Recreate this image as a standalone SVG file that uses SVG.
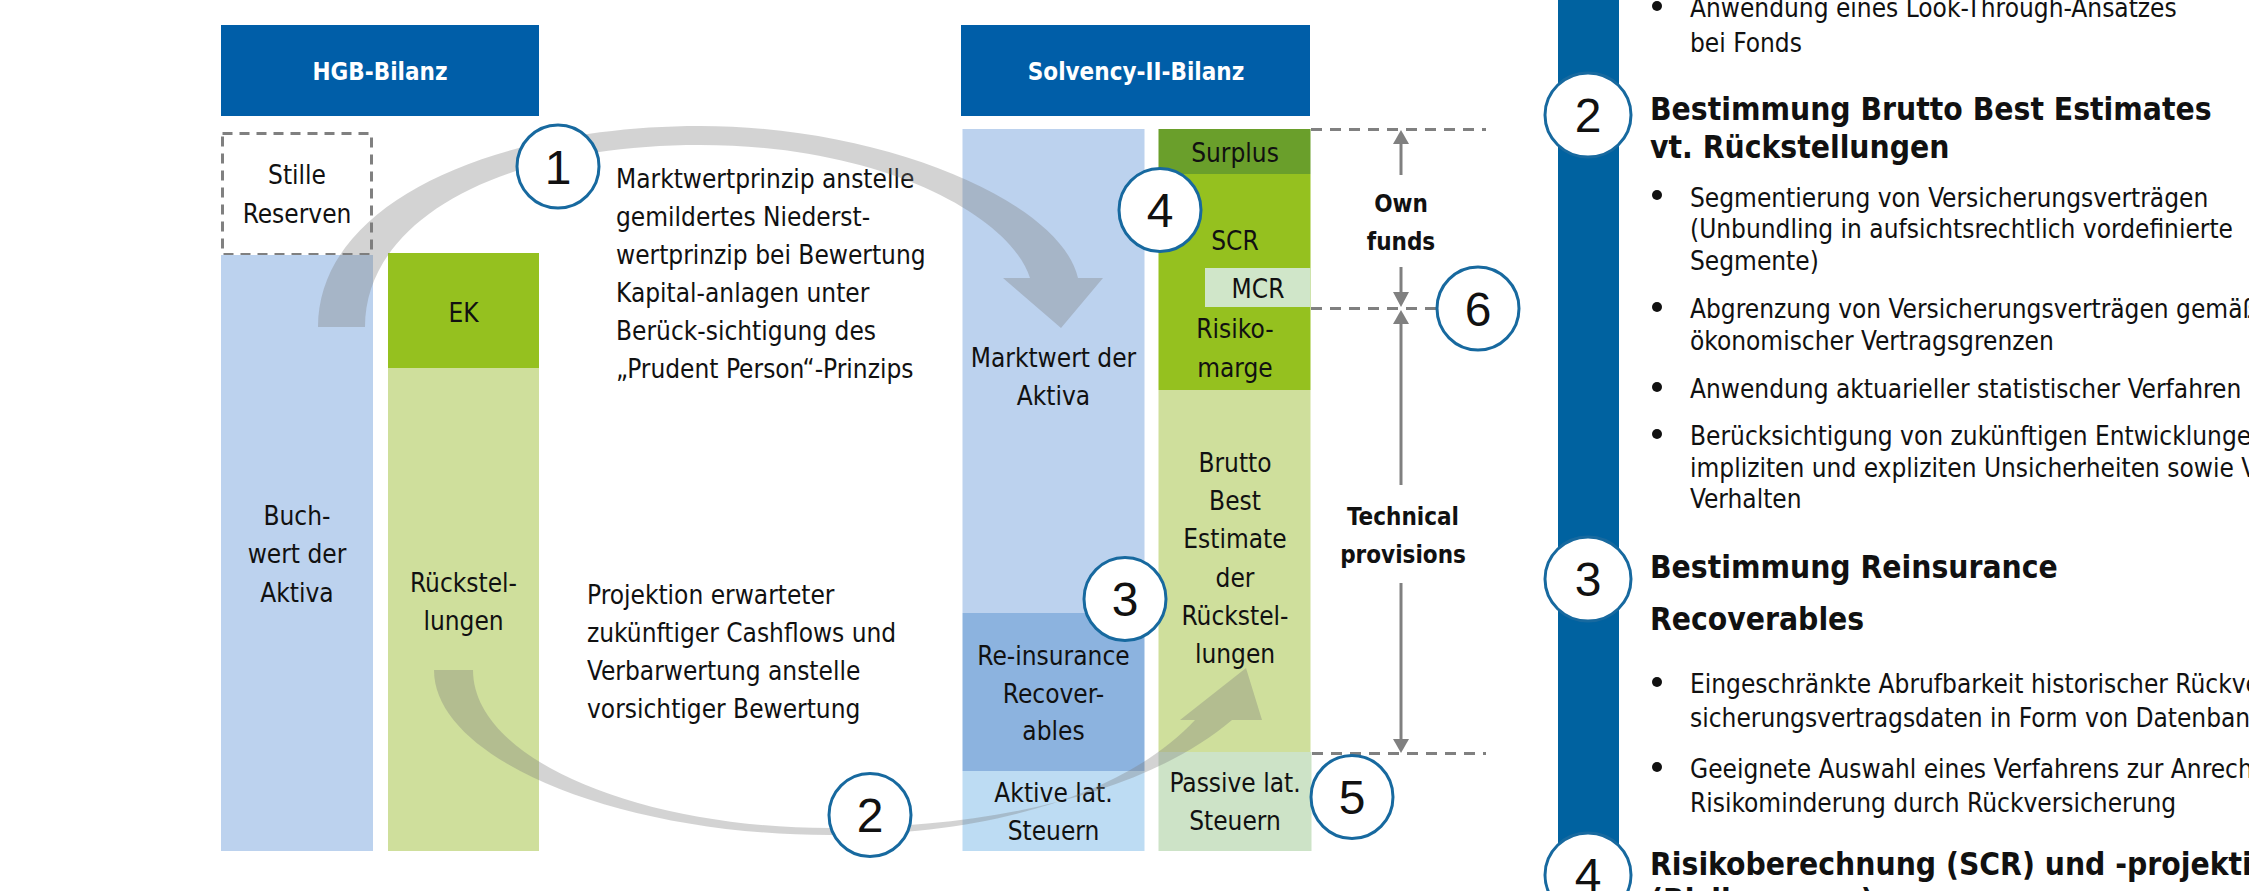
<svg xmlns="http://www.w3.org/2000/svg" width="2249" height="891" viewBox="0 0 2249 891">
  <style>
    text { font-family: "DejaVu Sans Condensed", "DejaVu Sans", sans-serif; font-stretch: condensed; fill: #111; }
    .lbl { font-size: 26px; text-anchor: middle; }
    .body { font-size: 26px; }
    .hdr { font-size: 24px; font-weight: bold; fill: #fff; text-anchor: middle; }
    .dim { font-size: 24px; font-weight: bold; text-anchor: middle; }
    .head { font-size: 31.5px; font-weight: bold; }
    .num { font-family: "Liberation Sans", Arial, sans-serif; font-stretch: normal; font-size: 48px; text-anchor: middle; }
    .badge { fill: #fff; stroke: #17699f; stroke-width: 3; }
    .guide { stroke: #808080; stroke-width: 3; stroke-dasharray: 11 8; fill: none; }
    .dimline { stroke: #808080; stroke-width: 3; fill: none; }
    .head-tri { fill: #808080; }
    .flow { fill: #7a7a7a; fill-opacity: 0.33; }
    .dot { fill: #111; }
  </style>

  <!-- HGB balance sheet -->
  <g id="hgb-header">
    <rect x="221" y="25" width="318" height="91" fill="#005ea8"/>
    <text class="hdr" x="380" y="80">HGB-Bilanz</text>
  </g>
  <g id="stille-reserven">
    <rect x="222.5" y="133.5" width="149" height="121" fill="none" stroke="#808080" stroke-width="3" stroke-dasharray="10 7"/>
    <text class="lbl" x="297" y="184">Stille</text>
    <text class="lbl" x="297" y="223">Reserven</text>
  </g>
  <g id="buchwert">
    <rect x="221" y="255" width="152" height="596" fill="#bcd2ee"/>
    <text class="lbl" x="297" y="525">Buch-</text>
    <text class="lbl" x="297" y="563">wert der</text>
    <text class="lbl" x="297" y="602">Aktiva</text>
  </g>
  <g id="ek">
    <rect x="388" y="253" width="151" height="115" fill="#95c11f"/>
    <text class="lbl" x="463.5" y="322">EK</text>
  </g>
  <g id="rueckstellungen">
    <rect x="388" y="368" width="151" height="483" fill="#cfdf9c"/>
    <text class="lbl" x="463.5" y="592">Rückstel-</text>
    <text class="lbl" x="463.5" y="630">lungen</text>
  </g>

  <!-- Solvency II balance sheet -->
  <g id="solvency-header">
    <rect x="961" y="25" width="349" height="91" fill="#005ea8"/>
    <text class="hdr" x="1136" y="80">Solvency-II-Bilanz</text>
  </g>
  <g id="marktwert">
    <rect x="962.5" y="129" width="182" height="484" fill="#bcd2ee"/>
    <text class="lbl" x="1053.5" y="367">Marktwert der</text>
    <text class="lbl" x="1053.5" y="405">Aktiva</text>
  </g>
  <g id="reinsurance">
    <rect x="962.5" y="613" width="182" height="158" fill="#8cb3df"/>
    <text class="lbl" x="1053.5" y="665">Re-insurance</text>
    <text class="lbl" x="1053.5" y="703">Recover-</text>
    <text class="lbl" x="1053.5" y="740">ables</text>
  </g>
  <g id="aktive-lat">
    <rect x="962.5" y="771" width="182" height="80" fill="#bddcf3"/>
    <text class="lbl" x="1053.5" y="802">Aktive lat.</text>
    <text class="lbl" x="1053.5" y="840">Steuern</text>
  </g>
  <g id="surplus">
    <rect x="1158.5" y="129" width="152" height="45" fill="#6a9f2b"/>
    <text class="lbl" x="1235" y="162">Surplus</text>
  </g>
  <g id="scr">
    <rect x="1158.5" y="174" width="152" height="216" fill="#95c11f"/>
    <text class="lbl" x="1235" y="250">SCR</text>
    <text class="lbl" x="1235" y="338">Risiko-</text>
    <text class="lbl" x="1235" y="377">marge</text>
  </g>
  <g id="mcr">
    <rect x="1205" y="268" width="105.5" height="39" fill="#d0e6c9"/>
    <text class="lbl" x="1258" y="298">MCR</text>
  </g>
  <g id="best-estimate">
    <rect x="1158.5" y="390" width="152" height="362" fill="#cfdf9c"/>
    <text class="lbl" x="1235" y="472">Brutto</text>
    <text class="lbl" x="1235" y="510">Best</text>
    <text class="lbl" x="1235" y="548">Estimate</text>
    <text class="lbl" x="1235" y="587">der</text>
    <text class="lbl" x="1235" y="625">Rückstel-</text>
    <text class="lbl" x="1235" y="663">lungen</text>
  </g>
  <g id="passive-lat">
    <rect x="1158.5" y="752" width="153" height="99" fill="#cde3c7"/>
    <text class="lbl" x="1235" y="792">Passive lat.</text>
    <text class="lbl" x="1235" y="830">Steuern</text>
  </g>

  <!-- explanatory notes -->
  <g id="note-1">
    <text class="body" x="616" y="188">Marktwertprinzip anstelle</text>
    <text class="body" x="616" y="226">gemildertes Niederst-</text>
    <text class="body" x="616" y="264">wertprinzip bei Bewertung</text>
    <text class="body" x="616" y="302">Kapital-anlagen unter</text>
    <text class="body" x="616" y="340">Berück-sichtigung des</text>
    <text class="body" x="616" y="378">„Prudent Person“-Prinzips</text>
  </g>
  <g id="note-2">
    <text class="body" x="587" y="604">Projektion erwarteter</text>
    <text class="body" x="587" y="642">zukünftiger Cashflows und</text>
    <text class="body" x="587" y="680">Verbarwertung anstelle</text>
    <text class="body" x="587" y="718">vorsichtiger Bewertung</text>
  </g>

  <!-- connectors: curved flow arrows and dimension lines -->
  <g id="connectors">
    <path class="flow" d="M318 327 C318 200 500 126 700 126 C880 126 1060 200 1078 278 L1103 278 L1061 328 L1003 278 L1030 278 C1010 215 880 145 700 145 C500 145 365 220 365 327 Z"/>
    <path class="flow" d="M434 670 C434 760 620 835 830 835 C1000 835 1130 790 1195 720 L1180 720 L1246 668 L1262 720 L1232 720 C1150 790 1000 828 830 828 C640 828 473 760 473 670 Z"/>

    <line class="guide" x1="1311" y1="129.5" x2="1486" y2="129.5"/>
    <line class="guide" x1="1311" y1="308.5" x2="1436" y2="308.5"/>
    <line class="guide" x1="1312" y1="753.5" x2="1486" y2="753.5"/>

    <line class="dimline" x1="1401" y1="142" x2="1401" y2="175"/>
    <polygon class="head-tri" points="1401,130 1393,144 1409,144"/>
    <line class="dimline" x1="1401" y1="267" x2="1401" y2="294"/>
    <polygon class="head-tri" points="1401,307 1393,292 1409,292"/>
    <line class="dimline" x1="1401" y1="322" x2="1401" y2="485"/>
    <polygon class="head-tri" points="1401,310 1393,324 1409,324"/>
    <line class="dimline" x1="1401" y1="583" x2="1401" y2="741"/>
    <polygon class="head-tri" points="1401,753 1393,739 1409,739"/>

    <text class="dim" x="1401" y="212">Own</text>
    <text class="dim" x="1401" y="250">funds</text>
    <text class="dim" x="1403" y="525">Technical</text>
    <text class="dim" x="1403" y="563">provisions</text>
  </g>

  <!-- numbered badges in the balance sheets -->
  <g id="badge-1"><ellipse class="badge" cx="558" cy="166.5" rx="41" ry="41.5"/><text class="num" x="558" y="184">1</text></g>
  <g id="badge-2"><ellipse class="badge" cx="870" cy="815" rx="41" ry="41.5"/><text class="num" x="870" y="832">2</text></g>
  <g id="badge-3"><ellipse class="badge" cx="1125" cy="599" rx="41" ry="41.5"/><text class="num" x="1125" y="616">3</text></g>
  <g id="badge-4"><ellipse class="badge" cx="1160" cy="210" rx="41" ry="41.5"/><text class="num" x="1160" y="227">4</text></g>
  <g id="badge-5"><ellipse class="badge" cx="1352" cy="797" rx="41" ry="41.5"/><text class="num" x="1352" y="814">5</text></g>
  <g id="badge-6"><ellipse class="badge" cx="1478" cy="308.5" rx="41" ry="41.5"/><text class="num" x="1478" y="326">6</text></g>

  <!-- step list on the right -->
  <g id="step-rail">
    <rect x="1558" y="0" width="61" height="891" fill="#0062a0"/>
  </g>
  <g id="step-1-tail">
    <circle class="dot" cx="1657" cy="6" r="5"/>
    <text class="body" x="1690" y="17">Anwendung eines Look-Through-Ansatzes</text>
    <text class="body" x="1690" y="52">bei Fonds</text>
  </g>
  <g id="step-2">
    <ellipse class="badge" cx="1588" cy="115" rx="43" ry="42"/>
    <text class="num" x="1588" y="132">2</text>
    <text class="head" x="1650" y="120">Bestimmung Brutto Best Estimates</text>
    <text class="head" x="1650" y="158">vt. Rückstellungen</text>
    <circle class="dot" cx="1657" cy="195" r="5"/>
    <text class="body" x="1690" y="207">Segmentierung von Versicherungsverträgen</text>
    <text class="body" x="1690" y="238">(Unbundling in aufsichtsrechtlich vordefinierte</text>
    <text class="body" x="1690" y="270">Segmente)</text>
    <circle class="dot" cx="1657" cy="307" r="5"/>
    <text class="body" x="1690" y="318">Abgrenzung von Versicherungsverträgen gemäß</text>
    <text class="body" x="1690" y="350">ökonomischer Vertragsgrenzen</text>
    <circle class="dot" cx="1657" cy="387" r="5"/>
    <text class="body" x="1690" y="398">Anwendung aktuarieller statistischer Verfahren</text>
    <circle class="dot" cx="1657" cy="434" r="5"/>
    <text class="body" x="1690" y="445">Berücksichtigung von zukünftigen Entwicklungen,</text>
    <text class="body" x="1690" y="477">impliziten und expliziten Unsicherheiten sowie Versicherungsnehmer-</text>
    <text class="body" x="1690" y="508">Verhalten</text>
  </g>
  <g id="step-3">
    <ellipse class="badge" cx="1588" cy="579" rx="43" ry="42"/>
    <text class="num" x="1588" y="596">3</text>
    <text class="head" x="1650" y="578">Bestimmung Reinsurance</text>
    <text class="head" x="1650" y="630">Recoverables</text>
    <circle class="dot" cx="1657" cy="682" r="5"/>
    <text class="body" x="1690" y="693">Eingeschränkte Abrufbarkeit historischer Rückver-</text>
    <text class="body" x="1690" y="727">sicherungsvertragsdaten in Form von Datenbanken</text>
    <circle class="dot" cx="1657" cy="767" r="5"/>
    <text class="body" x="1690" y="778">Geeignete Auswahl eines Verfahrens zur Anrechnung der</text>
    <text class="body" x="1690" y="812">Risikominderung durch Rückversicherung</text>
  </g>
  <g id="step-4">
    <ellipse class="badge" cx="1588" cy="875" rx="43" ry="42"/>
    <text class="num" x="1588" y="892">4</text>
    <text class="head" x="1650" y="875">Risikoberechnung (SCR) und -projektion</text>
    <text class="head" x="1650" y="911">(Risikomarge)</text>
  </g>
</svg>
